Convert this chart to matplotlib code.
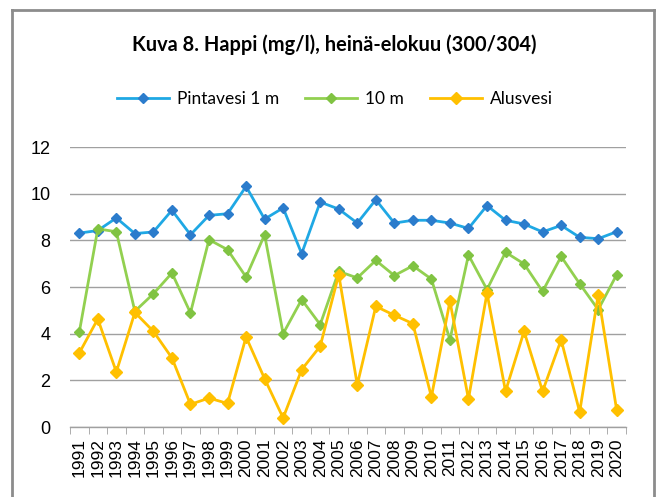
import numpy as np
import matplotlib
matplotlib.use('Agg')
import matplotlib.pyplot as plt
from matplotlib.lines import Line2D

# vuodet ja happiarvot (mg/l)
years = [str(y) for y in range(1991, 2021)]
pintavesi = [8.31, 8.42, 8.96, 8.29, 8.36, 9.29, 8.24, 9.07, 9.14, 10.31,
             8.91, 9.39, 7.43, 9.64, 9.34, 8.74, 9.74, 8.74, 8.86, 8.86,
             8.74, 8.51, 9.49, 8.86, 8.70, 8.36, 8.64, 8.13, 8.07, 8.37]
m10 = [4.06, 8.49, 8.37, 4.96, 5.71, 6.60, 4.89, 8.03, 7.60, 6.43,
       8.24, 4.00, 5.46, 4.39, 6.67, 6.39, 7.14, 6.49, 6.91, 6.34,
       3.74, 7.37, 5.89, 7.49, 6.99, 5.81, 7.31, 6.14, 5.03, 6.53]
alusvesi = [3.17, 4.63, 2.36, 4.91, 4.10, 2.96, 0.97, 1.24, 1.01, 3.86,
            2.07, 0.39, 2.46, 3.46, 6.53, 1.81, 5.17, 4.79, 4.43, 1.29,
            5.39, 1.20, 5.74, 1.53, 4.10, 1.53, 3.74, 0.64, 5.67, 0.71]

W, H = 657, 497
fig = plt.figure(figsize=(W / 100, H / 100), dpi=100)

# kehys (alareuna rajautuu kuvasta)
fig.add_artist(Line2D([12 / W, 12 / W], [0, 1 - 10 / H], color='#8c8c8c', lw=2))
fig.add_artist(Line2D([12 / W, 654 / W], [1 - 10 / H, 1 - 10 / H], color='#8c8c8c', lw=2))
fig.add_artist(Line2D([654 / W, 654 / W], [0, 1 - 10 / H], color='#8c8c8c', lw=2))

ax = fig.add_axes([70 / W, (H - 427) / H, (626 - 70) / W, (427 - 147) / H])
x = np.arange(len(years))

l1, = ax.plot(x, pintavesi, color='#1fa8e4', lw=2, marker='D', ms=5.4,
              mfc='#2b7ccc', mec='#2b7ccc', label='Pintavesi 1 m', zorder=3)
l2, = ax.plot(x, m10, color='#92d050', lw=2, marker='D', ms=5.4,
              mfc='#80c342', mec='#80c342', label='10 m', zorder=3)
l3, = ax.plot(x, alusvesi, color='#ffc000', lw=2, marker='D', ms=5.9,
              mfc='#ffc000', mec='#ffc000', label='Alusvesi', zorder=4)

ax.set_xlim(-0.5, len(years) - 0.5)
ax.set_ylim(0, 12)
ax.set_yticks(range(0, 13, 2))
ax.set_xticks(x)
ax.set_xticklabels(years, rotation=90, fontsize=12.5, family='Liberation Sans')
ax.set_xticks(np.arange(-0.5, len(years), 1), minor=True)
ax.tick_params(axis='x', which='major', length=0, pad=8)
ax.tick_params(axis='x', which='minor', length=5, color='#a0a0a0', direction='out')
ax.tick_params(axis='y', length=0, pad=14, labelsize=13)
for lab in ax.get_yticklabels():
    lab.set_family('Liberation Sans')

ax.grid(axis='y', color='#a0a0a0', lw=1)
ax.set_axisbelow(True)
for s in ['top', 'right', 'left']:
    ax.spines[s].set_visible(False)
ax.spines['bottom'].set_color('#a0a0a0')
ax.spines['bottom'].set_linewidth(1)

title = fig.text(132 / W, 1 - 45 / H, 'Kuva 8. Happi (mg/l), heinä-elokuu (300/304)',
                 ha='left', va='center', fontsize=13, fontweight='bold', family='Lato')
# sovitetaan otsikon leveys noin 403 px:iin
r = fig.canvas.get_renderer()
w = title.get_window_extent(r).width
title.set_fontsize(13 * 403 / w)

fig.legend(handles=[l1, l2, l3], loc='center left', bbox_to_anchor=(101 / W, 1 - 99 / H),
           ncol=3, frameon=False, prop={'family': 'Lato', 'size': 12.5},
           handlelength=3.0, handletextpad=0.45, columnspacing=1.5)

fig.savefig('out.png', dpi=100)
